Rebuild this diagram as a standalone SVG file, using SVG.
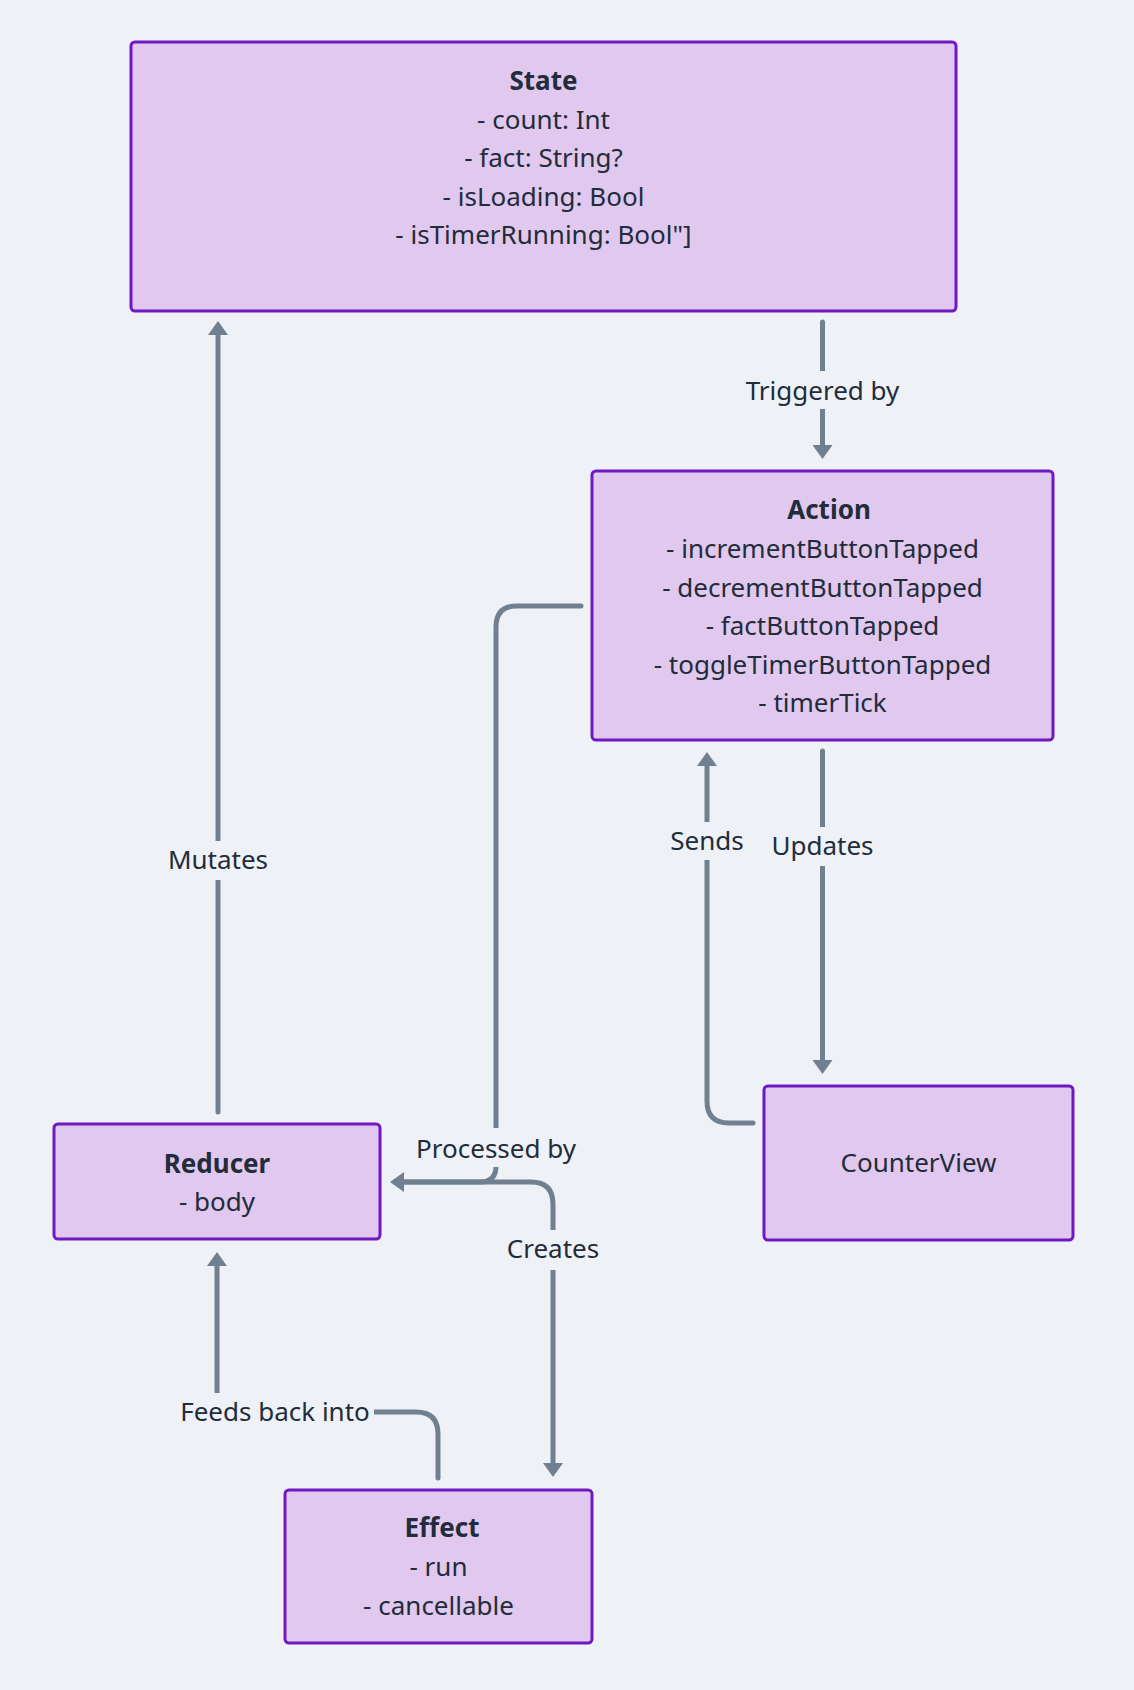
<svg xmlns="http://www.w3.org/2000/svg" width="1134" height="1690" viewBox="0 0 1134 1690">
<style>
.bg{fill:#EEF1F6}
.node rect{fill:#E0C8EE;stroke:#7018C2;stroke-width:3}
text{font-family:"Noto Sans","DejaVu Sans",sans-serif;font-size:26px;fill:#222C3A;text-anchor:middle}
.t{font-weight:bold}
.edge{fill:none;stroke:#708090;stroke-width:5;stroke-linecap:round;stroke-linejoin:round}
.lb{fill:#EEF1F6}
</style>
<defs>
<marker id="ah" viewBox="0 0 14 20" markerWidth="14" markerHeight="20" refX="8" refY="10" orient="auto" markerUnits="userSpaceOnUse">
<path d="M0,0 L14,10 L0,20 z" fill="#708090"/>
</marker>
</defs>
<rect class="bg" x="0" y="0" width="1134" height="1690"/>
<g id="connectors">
<path class="edge" d="M218 1112 V327" marker-end="url(#ah)"/>
<path class="edge" d="M822.5 322 V453" marker-end="url(#ah)"/>
<path class="edge" d="M581 606 H517 Q496 606 496 627 V1166 Q496 1182 480 1182 H396" marker-end="url(#ah)"/>
<path class="edge" d="M396 1182 H531 Q553 1182 553 1204 V1471" marker-end="url(#ah)"/>
<path class="edge" d="M438 1478 V1434 Q438 1412 416 1412 H239 Q217 1412 217 1390 V1258" marker-end="url(#ah)"/>
<path class="edge" d="M753 1123 H729 Q707 1123 707 1101 V758" marker-end="url(#ah)"/>
<path class="edge" d="M822.5 751 V1068" marker-end="url(#ah)"/>
<rect class="lb" x="164" y="841" width="108" height="39"/>
<text x="218" y="869">Mutates</text>
<rect class="lb" x="740" y="371" width="165" height="38"/>
<text x="822.5" y="400">Triggered by</text>
<rect class="lb" x="410" y="1128" width="172" height="39"/>
<text x="496" y="1158">Processed by</text>
<rect class="lb" x="503" y="1230" width="101" height="40"/>
<text x="553" y="1258">Creates</text>
<rect class="lb" x="176" y="1393" width="198" height="38"/>
<text x="275" y="1421">Feeds back into</text>
<rect class="lb" x="665" y="822" width="85" height="38"/>
<text x="707" y="850">Sends</text>
<rect class="lb" x="768" y="827" width="110" height="39"/>
<text x="822.5" y="855">Updates</text>
</g>
<g id="State" class="node">
<rect x="131" y="42" width="825" height="269" rx="4"/>
<text x="543.5" y="90" class="t">State</text>
<text x="543.5" y="128.5">- count: Int</text>
<text x="543.5" y="167">- fact: String?</text>
<text x="543.5" y="205.5">- isLoading: Bool</text>
<text x="543.5" y="244">- isTimerRunning: Bool"]</text>
</g>
<g id="Action" class="node">
<rect x="592" y="471" width="461" height="269" rx="4"/>
<text x="829" y="519" class="t">Action</text>
<text x="822.5" y="558">- incrementButtonTapped</text>
<text x="822.5" y="596.5">- decrementButtonTapped</text>
<text x="822.5" y="635">- factButtonTapped</text>
<text x="822.5" y="673.5">- toggleTimerButtonTapped</text>
<text x="822.5" y="712">- timerTick</text>
</g>
<g id="Reducer" class="node">
<rect x="54" y="1124" width="326" height="115" rx="4"/>
<text x="217" y="1172.5" class="t">Reducer</text>
<text x="217" y="1211">- body</text>
</g>
<g id="CounterView" class="node">
<rect x="764" y="1086" width="309" height="154" rx="4"/>
<text x="918.5" y="1172">CounterView</text>
</g>
<g id="Effect" class="node">
<rect x="285" y="1490" width="307" height="153" rx="4"/>
<text x="442" y="1537" class="t">Effect</text>
<text x="438.5" y="1576">- run</text>
<text x="438.5" y="1614.5">- cancellable</text>
</g>
</svg>
